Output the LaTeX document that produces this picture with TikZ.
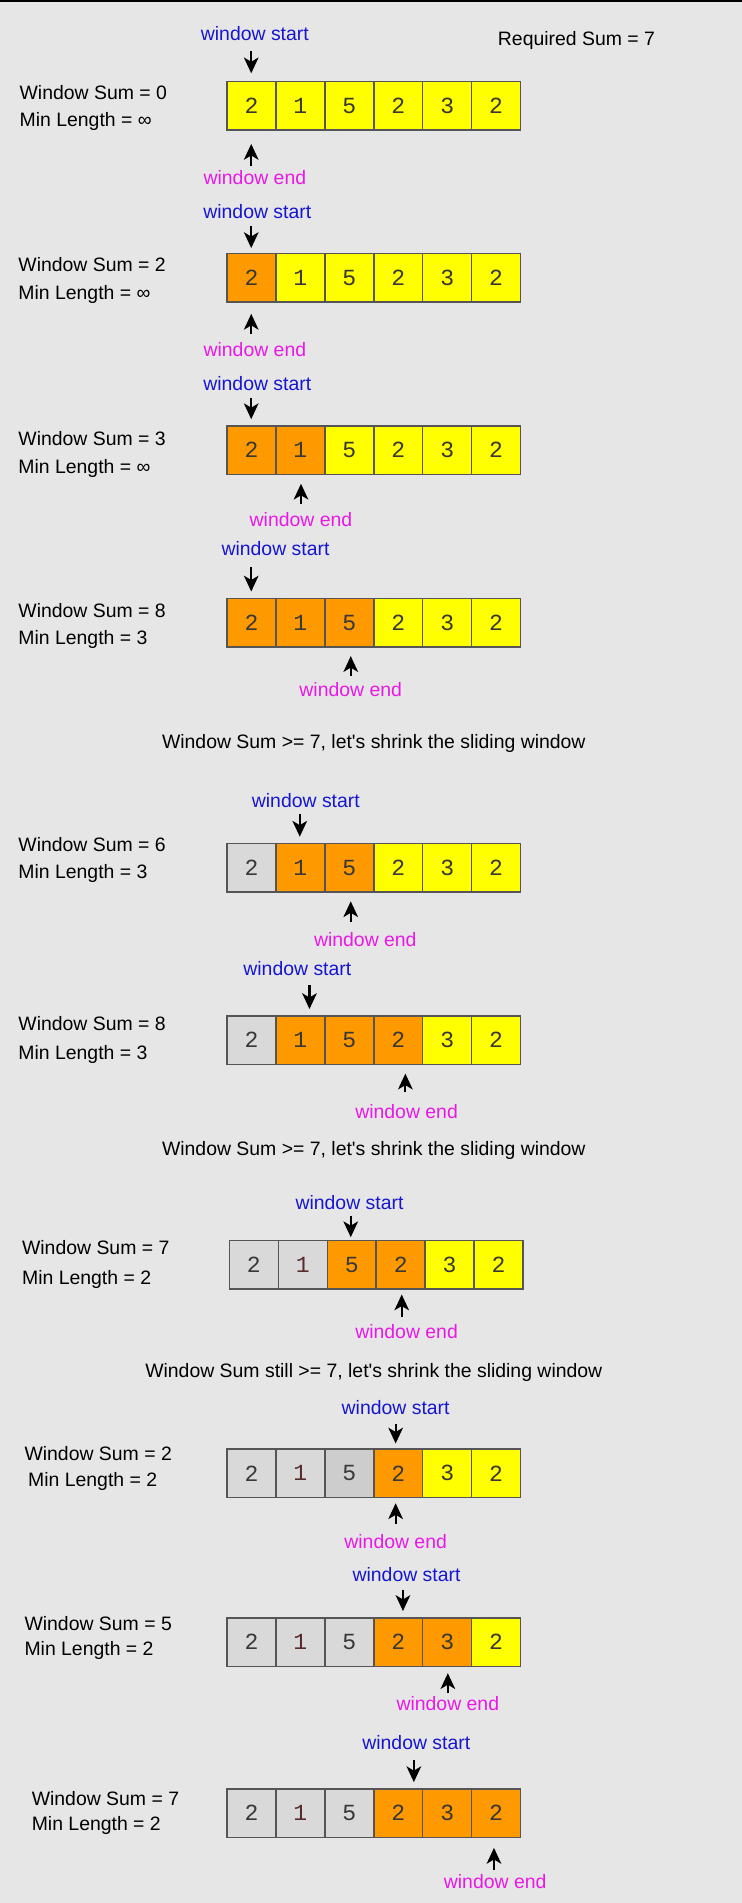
\documentclass[tikz,border=0pt]{standalone}
\usepackage{fontspec}
\setmainfont{Liberation Sans}
\newfontfamily\digitfont{Liberation Mono}
\usetikzlibrary{arrows.meta}
\definecolor{bgC}{HTML}{E6E6E6}
\definecolor{cY}{HTML}{FFFF00}
\definecolor{cO}{HTML}{FF9900}
\definecolor{cG}{HTML}{D9D9D9}
\definecolor{cGG}{HTML}{CDCDCD}
\definecolor{edgeC}{HTML}{555555}
\definecolor{startC}{HTML}{1616D0}
\definecolor{endC}{HTML}{EA18E6}
\definecolor{oneC}{HTML}{5A2A2A}
\definecolor{digC}{HTML}{383838}
\newcommand\cellrow[4]{%
  \foreach \c/\v [count=\j] in {#4} {
    \node[cellbox,fill=\c] (r#1c\j) at ({#3+40.33*(\j-0.5)},{#2+20}) {\v};
  }}
\begin{document}
\begin{tikzpicture}[x=1pt,y=-1pt,
  every node/.style={inner sep=0pt},
  txt/.style={font=\fontsize{16}{19}\selectfont,text=black},
  lbl/.style={txt,anchor=west},
  wstart/.style={font=\fontsize{16}{19}\selectfont,text=startC},
  wend/.style={font=\fontsize{16}{19}\selectfont,text=endC},
  cellbox/.style={draw=edgeC,line width=1.2pt,minimum width=40.3pt,minimum height=40pt,
    font=\digitfont\fontsize{19}{19}\selectfont,text=digC},
  ptr/.style={line width=1.8pt,-{Stealth[length=13pt,width=12pt,inset=3.5pt]}}]
\useasboundingbox (0,0) rectangle (611,1568);
\fill[bgC] (0,0) rectangle (611,1568);
\fill[black] (0,0) rectangle (611,2);

\node[txt] (req) at (475,33) {Required Sum = 7};

% row 1
\cellrow{1}{67}{187}{cY/2,cY/1,cY/5,cY/2,cY/3,cY/2}
\node[lbl] (s1) at (16,76) {Window Sum = 0};
\node[lbl] (m1) at (16,100) {Min Length = ∞};
\node[wstart] (ws1) at (210,28) {window start};
\node[wend] (we1) at (210,146) {window end};
\coordinate (d1) at (207,42);
\coordinate (u1) at (207,137);
\draw[ptr,shorten >=6pt] (d1) -- (d1 |- r1c1.north);
\draw[ptr,shorten >=11pt] (u1) -- (u1 |- r1c1.south);

% row 2
\cellrow{2}{209}{187}{cO/2,cY/1,cY/5,cY/2,cY/3,cY/2}
\node[lbl] (s2) at (15,218) {Window Sum = 2};
\node[lbl] (m2) at (15,243) {Min Length = ∞};
\node[wstart] (ws2) at (212,174) {window start};
\node[wend] (we2) at (210,288) {window end};
\coordinate (d2) at (207,186);
\coordinate (u2) at (207,275);
\draw[ptr,shorten >=4pt] (d2) -- (d2 |- r2c1.north);
\draw[ptr,shorten >=9pt] (u2) -- (u2 |- r2c1.south);

% row 3
\cellrow{3}{351}{187}{cO/2,cO/1,cY/5,cY/2,cY/3,cY/2}
\node[lbl] (s3) at (15,361) {Window Sum = 3};
\node[lbl] (m3) at (15,386) {Min Length = ∞};
\node[wstart] (ws3) at (212,316) {window start};
\node[wend] (we3) at (248,428) {window end};
\coordinate (d3) at (207,328);
\coordinate (u3) at (248,415);
\draw[ptr,shorten >=5pt] (d3) -- (d3 |- r3c1.north);
\draw[ptr,shorten >=7pt] (u3) -- (u3 |- r3c2.south);

% row 4
\cellrow{4}{493}{187}{cO/2,cO/1,cO/5,cY/2,cY/3,cY/2}
\node[lbl] (s4) at (15,503) {Window Sum = 8};
\node[lbl] (m4) at (15,527) {Min Length = 3};
\node[wstart] (ws4) at (227,452) {window start};
\node[wend] (we4) at (289,568) {window end};
\coordinate (d4) at (207,467);
\coordinate (u4) at (289,557);
\draw[ptr,shorten >=5pt] (d4) -- (d4 |- r4c1.north);
\draw[ptr,shorten >=7pt] (u4) -- (u4 |- r4c3.south);

\node[txt] (msg1) at (308,613) {Window Sum >= 7, let\textquotesingle s shrink the sliding window};

% row 5
\cellrow{5}{695}{187}{cG/2,cO/1,cO/5,cY/2,cY/3,cY/2}
\node[lbl] (s5) at (15,696) {Window Sum = 6};
\node[lbl] (m5) at (15,720) {Min Length = 3};
\node[wstart] (ws5) at (252,660) {window start};
\node[wend] (we5) at (301,774) {window end};
\coordinate (d5) at (247,671);
\coordinate (u5) at (289,760);
\draw[ptr,shorten >=5pt] (d5) -- (d5 |- r5c2.north);
\draw[ptr,shorten >=7pt] (u5) -- (u5 |- r5c3.south);

% row 6
\cellrow{6}{837}{187}{cG/2,cO/1,cO/5,cO/2,cY/3,cY/2}
\node[lbl] (s6) at (15,843) {Window Sum = 8};
\node[lbl] (m6) at (15,869) {Min Length = 3};
\node[wstart] (ws6) at (245,798) {window start};
\node[wend] (we6) at (335,916) {window end};
\coordinate (d6) at (255,812);
\coordinate (u6) at (334,900);
\draw[ptr,shorten >=5pt] (d6) -- (d6 |- r6c2.north);
\draw[ptr,shorten >=7pt] (u6) -- (u6 |- r6c4.south);

\node[txt] (msg2) at (308,948) {Window Sum >= 7, let\textquotesingle s shrink the sliding window};

% row 7
\cellrow{7}{1022}{189}{cG/2,cG/{\color{oneC}1},cO/5,cO/2,cY/3,cY/2}
\node[lbl] (s7) at (18,1028) {Window Sum = 7};
\node[lbl] (m7) at (18,1054) {Min Length = 2};
\node[wstart] (ws7) at (288,991) {window start};
\node[wend] (we7) at (335,1097) {window end};
\coordinate (d7) at (289,1002);
\coordinate (u7) at (331,1085);
\draw[ptr,shorten >=2pt] (d7) -- (d7 |- r7c3.north);
\draw[ptr,shorten >=4pt] (u7) -- (u7 |- r7c4.south);

\node[txt] (msg3) at (308,1131) {Window Sum still >= 7, let\textquotesingle s shrink the sliding window};

% row 8
\cellrow{8}{1194}{187}{cG/2,cG/{\color{oneC}1},cGG/5,cO/2,cY/3,cY/2}
\node[lbl] (s8) at (20,1198) {Window Sum = 2};
\node[lbl] (m8) at (23,1221) {Min Length = 2};
\node[wstart] (ws8) at (326,1160) {window start};
\node[wend] (we8) at (326,1270) {window end};
\coordinate (d8) at (326,1173);
\coordinate (u8) at (326,1256);
\draw[ptr,shorten >=4pt] (d8) -- (d8 |- r8c4.north);
\draw[ptr,shorten >=4pt] (u8) -- (u8 |- r8c4.south);

% row 9
\cellrow{9}{1333}{187}{cG/2,cG/{\color{oneC}1},cG/5,cO/2,cO/3,cY/2}
\node[lbl] (s9) at (20,1338) {Window Sum = 5};
\node[lbl] (m9) at (20,1360) {Min Length = 2};
\node[wstart] (ws9) at (335,1297) {window start};
\node[wend] (we9) at (369,1404) {window end};
\coordinate (d9) at (332,1310);
\coordinate (u9) at (369,1395);
\draw[ptr,shorten >=5pt] (d9) -- (d9 |- r9c4.north);
\draw[ptr,shorten >=5pt] (u9) -- (u9 |- r9c5.south);

% row 10
\cellrow{10}{1474}{187}{cG/2,cG/{\color{oneC}1},cG/5,cO/2,cO/3,cO/2}
\node[lbl] (s10) at (26,1482) {Window Sum = 7};
\node[lbl] (m10) at (26,1504) {Min Length = 2};
\node[wstart] (ws10) at (343,1436) {window start};
\node[wend] (we10) at (408,1550) {window end};
\coordinate (d10) at (341,1450);
\coordinate (u10) at (407,1541);
\draw[ptr,shorten >=5pt] (d10) -- (d10 |- r10c4.north);
\draw[ptr,shorten >=8pt] (u10) -- (u10 |- r10c6.south);
\end{tikzpicture}
\end{document}
